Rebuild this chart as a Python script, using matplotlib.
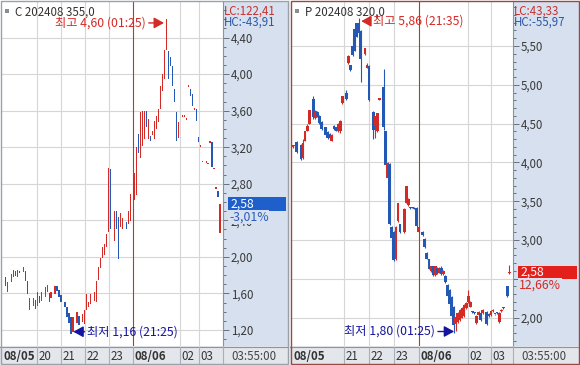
import numpy as np
import matplotlib
matplotlib.use("Agg")
import matplotlib.pyplot as plt
import matplotlib.transforms as mtransforms
from matplotlib.patches import Rectangle
from matplotlib.lines import Line2D
from matplotlib.ticker import MultipleLocator, FuncFormatter

plt.rcParams['font.family'] = ['Noto Sans CJK KR', 'DejaVu Sans']

# ---- C 202408 355.0 : 5 minute bars, slot = bar number counted from the left edge
call_slot = [0, 2, 3, 5, 6, 7, 8, 9, 11, 12,
             13, 14, 16, 17, 18, 19, 20, 22, 23, 24,
             25, 27, 28, 29, 30, 32, 33, 34, 35, 36,
             38, 39, 41, 42, 43, 44, 45, 47, 48, 49,
             50, 51, 52, 53, 54, 55, 57, 58, 59, 60,
             61, 63, 64, 65, 67, 68, 69, 70, 71, 72,
             73, 74, 75, 76, 77, 78, 79, 80, 81, 82,
             83, 84, 85, 86, 87, 88, 89, 91, 92, 93,
             94, 95, 96, 97, 98, 99, 100, 101, 103, 104,
             105, 106, 107, 108, 109, 110]
call_open = [1.76, 1.78, 1.62, 1.72, 1.78, 1.84, 1.78, 1.85, 1.83, 1.84,
             1.74, 1.42, 1.46, 1.53, 1.46, 1.57, 1.52, 1.56, 1.62, 1.60,
             1.55, 1.59, 1.68, 1.64, 1.58, 1.51, 1.45, 1.39, 1.34, 1.18,
             1.28, 1.35, 1.29, 1.27, 1.42, 1.45, 1.48, 1.52, 1.51, 1.75,
             1.88, 1.99, 2.02, 2.11, 2.27, 2.96, 2.17, 2.50, 2.44, 2.33,
             2.30, 2.38, 2.36, 2.39, 2.62, 2.68, 3.34, 3.08, 3.21, 3.29,
             3.60, 3.29, 3.32, 3.33, 3.29, 3.40, 3.48, 3.62, 3.81, 3.95,
             4.26, 4.25, 4.19, 4.09, 3.84, 3.59, 3.30, 3.53, 3.53, 3.50,
             3.86, 3.84, 3.78, 3.61, 3.62, 3.31, 3.20, 3.04, 3.03, 3.02,
             3.25, 3.26, 2.96, 2.74, 2.72, 2.26]
call_close = [1.90, 1.68, 1.72, 1.81, 1.86, 1.79, 1.86, 1.82, 1.89, 1.73,
              1.59, 1.55, 1.55, 1.43, 1.62, 1.50, 1.61, 1.67, 1.69, 1.51,
              1.62, 1.68, 1.63, 1.56, 1.51, 1.45, 1.34, 1.28, 1.16, 1.34,
              1.40, 1.25, 1.37, 1.42, 1.59, 1.51, 1.59, 1.61, 1.73, 1.89,
              1.99, 2.11, 2.14, 2.25, 2.97, 2.30, 2.50, 2.31, 1.98, 2.48,
              2.42, 2.31, 2.50, 2.69, 2.92, 3.20, 3.14, 3.59, 3.60, 3.60,
              3.42, 3.51, 3.27, 3.38, 3.49, 3.54, 3.62, 3.87, 4.00, 4.26,
              4.60, 3.95, 4.09, 3.87, 3.70, 3.27, 3.48, 3.55, 3.55, 3.52,
              3.88, 3.76, 3.65, 3.63, 3.49, 3.26, 3.22, 3.05, 3.05, 3.03,
              3.27, 2.98, 2.97, 2.76, 2.65, 2.58]
call_hours = [18, 30, 42, 54, 66, 90, 99.5]
call_hour_labels = ['20', '21', '22', '23', '08/06', '02', '03']
call_yticks = [1.20, 1.60, 2.00, 2.40, 2.80, 3.20, 3.60, 4.00, 4.40]

# ---- P 202408 320.0
put_slot = [1, 2, 3, 5, 6, 7, 8, 9, 11, 12,
            13, 14, 15, 17, 18, 19, 20, 21, 22, 23,
            24, 25, 27, 28, 29, 30, 31, 32, 33, 34,
            36, 37, 38, 40, 41, 42, 43, 45, 46, 47,
            48, 49, 50, 51, 52, 53, 55, 56, 57, 58,
            59, 60, 61, 62, 64, 65, 66, 67, 68, 69,
            70, 71, 72, 73, 74, 75, 76, 77, 78, 79,
            80, 81, 82, 83, 84, 85, 86, 87, 88, 89,
            90, 91, 92, 93, 95, 96, 97, 98, 99, 100,
            101, 102, 103, 105, 106]
put_open = [4.20, 4.21, 4.26, 4.22, 4.05, 4.28, 4.41, 4.50, 4.82, 4.57,
            4.65, 4.60, 4.52, 4.45, 4.39, 4.37, 4.28, 4.47, 4.45, 4.40,
            4.40, 4.76, 4.89, 5.28, 5.25, 5.50, 5.72, 5.79, 5.80, 5.69,
            5.40, 5.22, 5.24, 4.65, 4.47, 4.40, 4.81, 4.97, 4.40, 3.80,
            3.98, 3.17, 3.10, 2.76, 3.24, 3.20, 3.10, 3.48, 3.45, 3.41,
            3.42, 3.41, 3.41, 3.10, 3.10, 3.01, 2.83, 2.75, 2.60, 2.66,
            2.55, 2.64, 2.58, 2.64, 2.56, 2.54, 2.42, 2.36, 2.27, 2.14,
            1.92, 1.94, 1.97, 2.00, 2.02, 2.12, 2.20, 2.14, 2.07, 2.06,
            1.93, 2.03, 2.06, 2.06, 2.07, 2.05, 2.03, 2.08, 2.04, 2.06,
            1.94, 2.08, 2.12, 2.40, 2.57]
put_high = [4.22, 4.23, 4.28, 4.24, 4.30, 4.41, 4.49, 4.67, 4.86, 4.67,
            4.66, 4.61, 4.53, 4.46, 4.40, 4.38, 4.36, 4.48, 4.46, 4.51,
            4.54, 4.86, 4.93, 5.38, 5.26, 5.60, 5.74, 5.80, 5.86, 5.70,
            5.47, 5.28, 5.25, 4.66, 4.60, 4.64, 4.83, 5.20, 4.41, 4.00,
            3.99, 3.18, 3.12, 3.18, 3.48, 3.21, 3.41, 3.70, 3.54, 3.42,
            3.42, 3.42, 3.42, 3.18, 3.11, 3.02, 2.84, 2.76, 2.67, 2.67,
            2.67, 2.65, 2.65, 2.66, 2.61, 2.55, 2.43, 2.37, 2.28, 2.15,
            2.02, 2.07, 2.11, 2.13, 2.17, 2.20, 2.36, 2.21, 2.08, 2.07,
            2.03, 2.08, 2.07, 2.11, 2.08, 2.06, 2.10, 2.11, 2.05, 2.07,
            2.07, 2.11, 2.13, 2.41, 2.68]
put_low = [4.19, 4.20, 4.12, 4.03, 4.04, 4.27, 4.40, 4.49, 4.56, 4.56,
           4.59, 4.50, 4.42, 4.34, 4.30, 4.31, 4.27, 4.42, 4.40, 4.39,
           4.38, 4.75, 4.81, 5.27, 5.18, 5.37, 5.43, 5.61, 5.66, 5.04,
           5.39, 5.21, 4.79, 4.30, 4.32, 4.39, 4.81, 4.42, 3.94, 3.78,
           3.19, 2.78, 2.73, 2.74, 3.23, 3.09, 3.09, 3.47, 3.44, 3.40,
           3.41, 3.40, 3.17, 3.09, 3.05, 2.90, 2.75, 2.62, 2.59, 2.54,
           2.54, 2.56, 2.57, 2.55, 2.55, 2.45, 2.27, 2.16, 2.01, 1.80,
           1.82, 1.93, 1.96, 1.99, 2.01, 2.11, 2.19, 2.13, 2.06, 2.05,
           1.92, 2.02, 1.96, 2.05, 1.91, 2.01, 2.02, 2.07, 2.03, 2.05,
           1.93, 2.07, 2.11, 2.27, 2.56]
put_close = [4.22, 4.22, 4.14, 4.04, 4.25, 4.41, 4.47, 4.67, 4.58, 4.66,
             4.60, 4.51, 4.43, 4.35, 4.31, 4.32, 4.35, 4.43, 4.41, 4.50,
             4.53, 4.86, 4.82, 5.37, 5.19, 5.38, 5.44, 5.62, 5.67, 5.33,
             5.47, 5.25, 4.80, 4.42, 4.60, 4.63, 4.83, 4.45, 3.96, 3.99,
             3.20, 3.02, 2.74, 3.17, 3.47, 3.10, 3.40, 3.69, 3.53, 3.41,
             3.41, 3.40, 3.18, 3.17, 3.06, 2.91, 2.76, 2.63, 2.66, 2.55,
             2.66, 2.57, 2.64, 2.56, 2.60, 2.46, 2.28, 2.17, 2.02, 1.90,
             2.01, 2.06, 2.10, 2.12, 2.16, 2.19, 2.28, 2.20, 2.07, 2.06,
             2.02, 2.07, 1.97, 2.10, 1.92, 2.02, 2.09, 2.10, 2.04, 2.06,
             2.06, 2.10, 2.12, 2.28, 2.58]
put_hours = [26, 38, 50, 62, 86, 97]
put_hour_labels = ['21', '22', '23', '08/06', '02', '03']
put_yticks = [2.00, 2.50, 3.00, 3.50, 4.00, 4.50, 5.00, 5.50]

RED = '#d42a26'
BLUE = '#2358b4'
NAVY = '#1414a0'
SCALE_BG = '#d6e0ee'
W, H = 580, 365

fig = plt.figure(figsize=(W / 100, H / 100), dpi=100)
fig.patch.set_facecolor('#eef0f3')
PX = mtransforms.Affine2D().scale(1.0 / W, -1.0 / H).translate(0, 1) + fig.transFigure


def frac(x0, y0, x1, y1):
    return [x0 / W, 1 - y1 / H, (x1 - x0) / W, (y1 - y0) / H]


def comma(v, pos=None):
    return f'{v:.2f}'.replace('.', ',')


def draw_panel(x0, x1, xa, name, lc, hc, slots, opens, closes, highs, lows,
               body_w, min_h, xlim, ylim, yticks, hours, hour_labels,
               pct, box_col, pct_col, edge_col):
    slots = np.array(slots, float)
    opens = np.array(opens)
    closes = np.array(closes)

    fig.add_artist(Rectangle((x0, 0), x1 - x0, 364, transform=PX, fc='white', ec='none', zorder=-2))
    fig.add_artist(Rectangle((xa, 1), x1 - xa, 345, transform=PX, fc=SCALE_BG, ec='none', zorder=-1))
    fig.add_artist(Rectangle((x0, 346), x1 - x0, 18, transform=PX, fc='#e3e6ea', ec='none', zorder=-1))

    ax = fig.add_axes(frac(x0 + 1, 1, xa, 346))
    ax.set_facecolor('white')
    ax.set_xlim(xlim)
    ax.set_ylim(ylim)
    for s in ['left', 'top', 'bottom']:
        ax.spines[s].set_visible(False)
    ax.spines['right'].set_color('#8a93a0')
    ax.spines['right'].set_linewidth(0.8)
    ax.set_xticks([])
    ax.yaxis.tick_right()
    ax.set_yticks(yticks)
    ax.yaxis.set_major_formatter(FuncFormatter(comma))
    ax.yaxis.set_minor_locator(MultipleLocator(0.1))
    ax.tick_params(axis='y', which='major', length=4, width=0.7, color='#68707c',
                   labelsize=8.3, labelcolor='#3a3a3a', pad=1.5)
    ax.tick_params(axis='y', which='minor', length=2.2, width=0.7, color='#68707c')

    for v in yticks:
        ax.axhline(v, color='#d6d6d6', lw=0.8, zorder=0)
    for t, lab in zip(hours, hour_labels):
        ax.axvline(t, color='#b23a36' if '/' in lab else '#d6d6d6', lw=0.8, zorder=1 if '/' in lab else 0)

    col = np.where(closes > opens, RED, BLUE)
    if highs is not None:
        ax.vlines(slots, lows, highs, colors=col, lw=0.8, zorder=2)
    ax.bar(slots, np.maximum(np.abs(closes - opens), min_h), bottom=np.minimum(opens, closes),
           width=body_w, color=col, lw=0, zorder=3)

    # date strip
    tb = mtransforms.blended_transform_factory(ax.transData, PX)
    tb_txt = mtransforms.offset_copy(tb, fig=fig, x=1.5, units='dots')
    fig.add_artist(Line2D([x0, x1], [346.5, 346.5], transform=PX, color='#8e949d', lw=0.8))
    fig.add_artist(Line2D([xa, xa], [346, 364], transform=PX, color='#aab0b8', lw=0.8))
    for t, lab in zip(hours, hour_labels):
        fig.add_artist(Line2D([t, t], [347, 364], transform=tb, color='#aab0b8', lw=0.8))
        fig.text(t, 356, lab, transform=tb_txt, fontsize=8.3, va='center', color='#333333',
                 fontweight='bold' if '/' in lab else 'normal')
    fig.text(x0 + 4, 356, '08/05', transform=PX, fontsize=8.3, va='center', color='#333333',
             fontweight='bold')
    fig.text(xa + 8, 356, '03:55:00', transform=PX, fontsize=8.3, va='center', color='#444444')

    # header
    fig.add_artist(Rectangle((x0 + 5, 9), 4, 4, transform=PX, fc='#8c8c8c', ec='none'))
    fig.text(x0 + 15, 12, name, transform=PX, fontsize=8.3, va='center', color='#333333')
    fig.text(xa + 1, 11, lc, transform=PX, fontsize=8.3, va='center', color='#c8322d')
    fig.text(xa + 1, 22.5, hc, transform=PX, fontsize=8.3, va='center', color='#2a59a8')

    # last price box and change
    last = closes[-1]
    bt = mtransforms.blended_transform_factory(PX, ax.transData)
    hgt = 13.5 * (ylim[1] - ylim[0]) / 345
    fig.add_artist(Rectangle((xa + 5, last - hgt / 2), x1 - xa - 7, hgt, transform=bt,
                             fc=box_col, ec='none', zorder=5))
    fig.text(xa + 8, last, comma(last), transform=bt, fontsize=8.8, va='center',
             color='white', zorder=6)
    fig.text(xa + 6, last, pct, transform=mtransforms.offset_copy(bt, fig=fig, y=-13, units='dots'),
             fontsize=8.8, va='center', color=pct_col, zorder=6,
             bbox=dict(boxstyle='square,pad=0.05', fc=SCALE_BG, ec='none'))

    fig.add_artist(Rectangle((x0 + 0.5, 0.5), x1 - x0 - 1, 363.5, transform=PX, fill=False,
                             ec=edge_col, lw=1.0, zorder=7))
    return ax


def mark(ax, text, xy, dx, color):
    ax.annotate(text, xy=xy, xytext=(dx, 0), textcoords='offset pixels',
                ha='right' if dx < 0 else 'left', va='center', fontsize=8.8, color=color,
                annotation_clip=False, zorder=8,
                arrowprops=dict(arrowstyle='-|>,head_length=0.6,head_width=0.33', color=color,
                                lw=1.0, shrinkA=0, shrinkB=0, mutation_scale=10))


axl = draw_panel(0, 288, 223, 'C 202408 355,0', 'LC:122,41', 'HC:-43,91',
                 call_slot, call_open, call_close, None, None, 0.6, 0.012,
                 (-0.2, 111.5), (1.024, 4.80), call_yticks, call_hours, call_hour_labels,
                 '-3,01%', '#1f5fcc', '#2a5db8', '#9aa1aa')
mark(axl, '최고 4,60 (01:25)', (81.8, 4.56), -18, RED)
mark(axl, '최저 1,16 (21:25)', (36.2, 1.18), 14, NAVY)

axr = draw_panel(290, 579, 513, 'P 202408 320,0', 'LC:43,33', 'HC:-55,97',
                 put_slot, put_open, put_close, put_high, put_low, 1.35, 0.015,
                 (0.2, 107.7), (1.633, 6.08), put_yticks, put_hours, put_hour_labels,
                 '12,66%', '#e3201b', '#d42a26', '#9c4744')
mark(axr, '최고 5,86 (21:35)', (34.2, 5.82), 12, RED)
mark(axr, '최저 1,80 (01:25)', (79.2, 1.82), -19, NAVY)

fig.savefig('out.png', dpi=100, facecolor=fig.get_facecolor())
